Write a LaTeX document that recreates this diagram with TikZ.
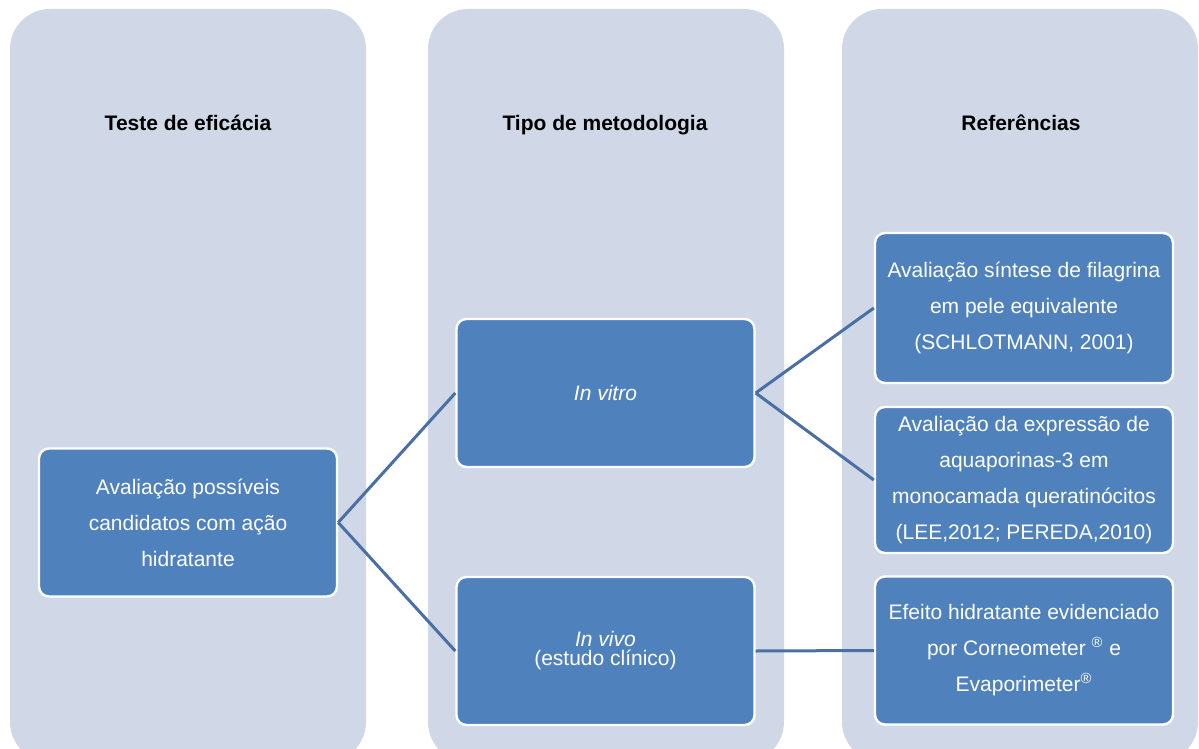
\documentclass[tikz,border=0pt]{standalone}
\usepackage{fontspec}
\setmainfont{Liberation Sans}
\definecolor{colbg}{HTML}{D0D8E8}
\definecolor{boxblue}{HTML}{4F81BD}
\definecolor{linkblue}{HTML}{4A6FA5}
\begin{document}
\begin{tikzpicture}[x=0.5pt,y=-0.5pt,
  column/.style={fill=colbg, rounded corners=20pt},
  head/.style={font=\fontsize{10.5}{12}\selectfont\bfseries, text=black, anchor=base},
  item/.style={draw=white, line width=1.2pt, fill=boxblue, rounded corners=5pt,
    text=white, align=center, minimum width=149pt, minimum height=74pt,
    inner sep=0pt, font=\fontsize{10.5}{18}\selectfont},
  link/.style={draw=linkblue, line width=1.5pt}]
\useasboundingbox (0,0) rectangle (1199,749);
\clip (0,0) rectangle (1199,749);

% background columns
\fill[column] (10,9) rectangle (366,762);
\fill[column] (428,9) rectangle (784,762);
\fill[column] (842,9) rectangle (1198,762);

% column headings (aligned on a common baseline)
\node[head] (h1) at (188,131) {Teste de eficácia};
\node[head] (h2) at (605,131) {Tipo de metodologia};
\node[head] (h3) at (1021,131) {Referências};

% boxes
\node[item] (cand) at (188,522.5) {Avaliação possíveis\\candidatos com ação\\hidratante};
\node[item] (vitro) at (605.5,393) {\itshape In vitro};
\node[item, font=\fontsize{10.5}{9.5}\selectfont] (vivo) at (605.5,651)
  {\itshape In vivo\\\upshape (estudo clínico)};
\node[item, minimum height=75pt] (filag) at (1024,308)
  {Avaliação síntese de filagrina\\em pele equivalente\\(SCHLOTMANN, 2001)};
\node[item, minimum height=73pt] (aqua) at (1024,480)
  {Avaliação da expressão de\\aquaporinas-3 em\\monocamada queratinócitos\\(LEE,2012; PEREDA,2010)};
\node[item] (corneo) at (1024,650.5)
  {Efeito hidratante evidenciado\\por Corneometer \textsuperscript{®} e\\Evaporimeter\textsuperscript{®}};

% connectors
\draw[link] (cand.east) -- (vitro.west);
\draw[link] (cand.east) -- (vivo.west);
\draw[link] (vitro.east) -- (filag.west);
\draw[link] (vitro.east) -- (aqua.west);
\draw[link] (vivo.east) -- (corneo.west);
\end{tikzpicture}
\end{document}
